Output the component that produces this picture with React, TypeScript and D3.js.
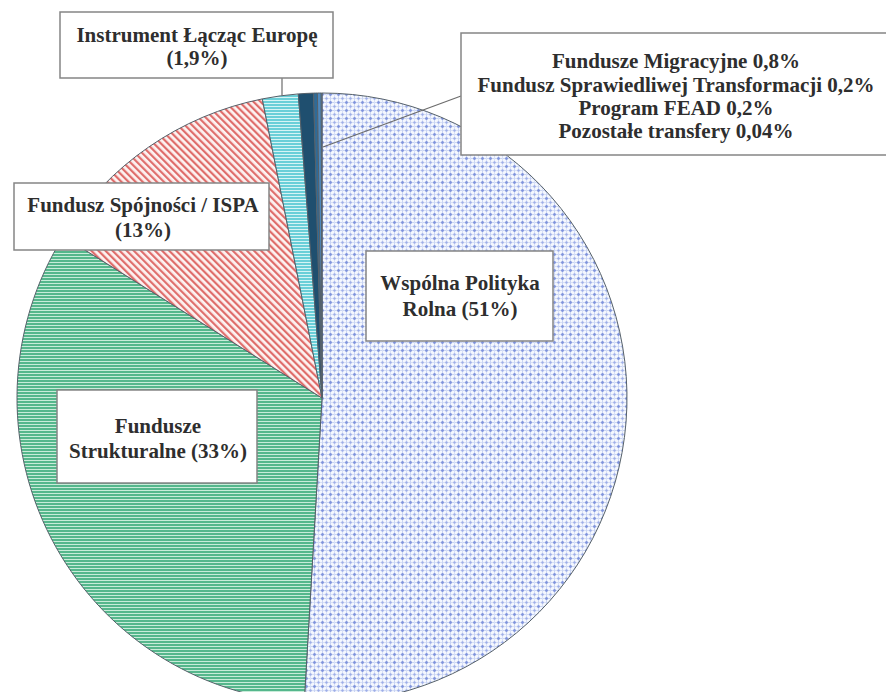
import React, { useEffect, useRef } from 'react';
import * as d3 from 'd3';

// udziały w wydatkach (kolejność zgodna z ruchem wskazówek zegara od godz. 12)
const categories = [
  'Wspólna Polityka Rolna',
  'Fundusze Strukturalne',
  'Fundusz Spójności / ISPA',
  'Instrument Łącząc Europę',
  'Fundusze Migracyjne',
  'Fundusz Sprawiedliwej Transformacji',
  'Program FEAD',
  'Pozostałe transfery',
];
const shares = [51, 33, 13, 1.9, 0.8, 0.2, 0.2, 0.04];
const shareLabels = ['51%', '33%', '13%', '1,9%', '0,8%', '0,2%', '0,2%', '0,04%'];
const fills = [
  'url(#pat-wpr)',
  'url(#pat-struct)',
  'url(#pat-spoj)',
  'url(#pat-cef)',
  '#1f4f6f',
  '#2f6b97',
  '#4f89bd',
  '#7eaedb',
];

interface Slice {
  name: string;
  value: number;
  fill: string;
}

interface LabelBox {
  x: number;
  y: number;
  w: number;
  h: number;
  cx: number;
  lines: string[];
  baselines: number[];
}

export default function App() {
  const ref = useRef<SVGSVGElement>(null);

  useEffect(() => {
    const width = 886;
    const height = 692;
    const cx = 322;
    const cy = 398;
    const radius = 305;

    const svg = d3.select(ref.current);
    svg.selectAll('*').remove();

    svg.append('rect').attr('width', width).attr('height', height).attr('fill', '#fff');

    const defs = svg.append('defs');

    // kropkowana siatka - WPR
    const pWpr = defs
      .append('pattern')
      .attr('id', 'pat-wpr')
      .attr('patternUnits', 'userSpaceOnUse')
      .attr('width', 8)
      .attr('height', 8);
    pWpr.append('rect').attr('width', 8).attr('height', 8).attr('fill', '#f4f7fe');
    pWpr.append('rect').attr('x', 0).attr('y', 0).attr('width', 8).attr('height', 1).attr('fill', '#cad5f3');
    pWpr.append('rect').attr('x', 0).attr('y', 4).attr('width', 8).attr('height', 1).attr('fill', '#d8e0f6');
    pWpr.append('rect').attr('x', 0).attr('y', 0).attr('width', 1).attr('height', 8).attr('fill', '#cad5f3');
    pWpr.append('rect').attr('x', 4).attr('y', 0).attr('width', 1).attr('height', 8).attr('fill', '#d8e0f6');
    [[0.5, 0.5], [8.5, 0.5], [0.5, 8.5], [8.5, 8.5]].forEach(([x, y]) => {
      pWpr.append('circle').attr('cx', x).attr('cy', y).attr('r', 1.4).attr('fill', '#7f93dc');
    });
    pWpr.append('circle').attr('cx', 4.5).attr('cy', 4.5).attr('r', 1.2).attr('fill', '#9dade8');

    // poziome paski - fundusze strukturalne
    const pStruct = defs
      .append('pattern')
      .attr('id', 'pat-struct')
      .attr('patternUnits', 'userSpaceOnUse')
      .attr('width', 6)
      .attr('height', 3);
    pStruct.append('rect').attr('width', 6).attr('height', 3).attr('fill', '#55b78c');
    pStruct.append('rect').attr('y', 2).attr('width', 6).attr('height', 1).attr('fill', '#c8ecd9');

    // ukośne kreski - fundusz spójności
    const pSpoj = defs
      .append('pattern')
      .attr('id', 'pat-spoj')
      .attr('patternUnits', 'userSpaceOnUse')
      .attr('width', 5)
      .attr('height', 5)
      .attr('patternTransform', 'rotate(-45)');
    pSpoj.append('rect').attr('width', 5).attr('height', 5).attr('fill', '#fdf3f2');
    pSpoj.append('rect').attr('width', 2.2).attr('height', 5).attr('fill', '#df6d6b');

    // poziome paski - CEF
    const pCef = defs
      .append('pattern')
      .attr('id', 'pat-cef')
      .attr('patternUnits', 'userSpaceOnUse')
      .attr('width', 6)
      .attr('height', 3);
    pCef.append('rect').attr('width', 6).attr('height', 3).attr('fill', '#6acfd8');
    pCef.append('rect').attr('y', 2).attr('width', 6).attr('height', 1).attr('fill', '#d6f4f5');

    const slices: Slice[] = categories.map((name, i) => ({
      name,
      value: shares[i],
      fill: fills[i],
    }));

    const pie = d3
      .pie<Slice>()
      .sort(null)
      .value((d) => d.value)
      .startAngle(0)
      .endAngle(2 * Math.PI);

    const arc = d3
      .arc<d3.PieArcDatum<Slice>>()
      .innerRadius(0)
      .outerRadius(radius);

    svg
      .append('g')
      .attr('transform', `translate(${cx}, ${cy})`)
      .selectAll('path')
      .data(pie(slices))
      .enter()
      .append('path')
      .attr('d', arc)
      .attr('fill', (d) => d.data.fill)
      .attr('stroke', '#56616a')
      .attr('stroke-width', 1);

    const boxes: LabelBox[] = [
      {
        x: 366, y: 251, w: 187, h: 90, cx: 460,
        lines: ['Wspólna Polityka', `Rolna (${shareLabels[0]})`],
        baselines: [290, 316],
      },
      {
        x: 57, y: 390, w: 200, h: 93, cx: 158,
        lines: ['Fundusze', `Strukturalne (${shareLabels[1]})`],
        baselines: [433, 458],
      },
      {
        x: 14, y: 183, w: 255, h: 67, cx: 143,
        lines: [categories[2], `(${shareLabels[2]})`],
        baselines: [212, 237],
      },
      {
        x: 60, y: 12, w: 273, h: 66, cx: 197,
        lines: [categories[3], `(${shareLabels[3]})`],
        baselines: [42, 65],
      },
      {
        x: 461, y: 33, w: 440, h: 122, cx: 676,
        lines: [4, 5, 6, 7].map((i) => `${categories[i]} ${shareLabels[i]}`),
        baselines: [68, 92, 115, 138],
      },
    ];

    // linie odniesienia
    const leaders = svg.append('g').attr('stroke', '#6c6c6c').attr('stroke-width', 1.2);
    leaders.append('line').attr('x1', 282).attr('y1', 78).attr('x2', 282).attr('y2', 95);
    leaders.append('line').attr('x1', 323).attr('y1', 147).attr('x2', 461).attr('y2', 96);

    const labels = svg.append('g');
    boxes.forEach((b) => {
      labels
        .append('rect')
        .attr('x', b.x)
        .attr('y', b.y)
        .attr('width', b.w)
        .attr('height', b.h)
        .attr('fill', '#fff')
        .attr('stroke', '#858585')
        .attr('stroke-width', 1.5);
      b.lines.forEach((line, i) => {
        labels
          .append('text')
          .attr('x', b.cx)
          .attr('y', b.baselines[i])
          .attr('text-anchor', 'middle')
          .attr('font-family', '"Liberation Serif", "Times New Roman", serif')
          .attr('font-weight', 'bold')
          .attr('font-size', 21)
          .attr('fill', '#2e2e2e')
          .text(line);
      });
    });
  }, []);

  return (
    <svg
      ref={ref}
      width={886}
      height={692}
      style={{ position: 'absolute', left: 0, top: 0, display: 'block' }}
    />
  );
}
